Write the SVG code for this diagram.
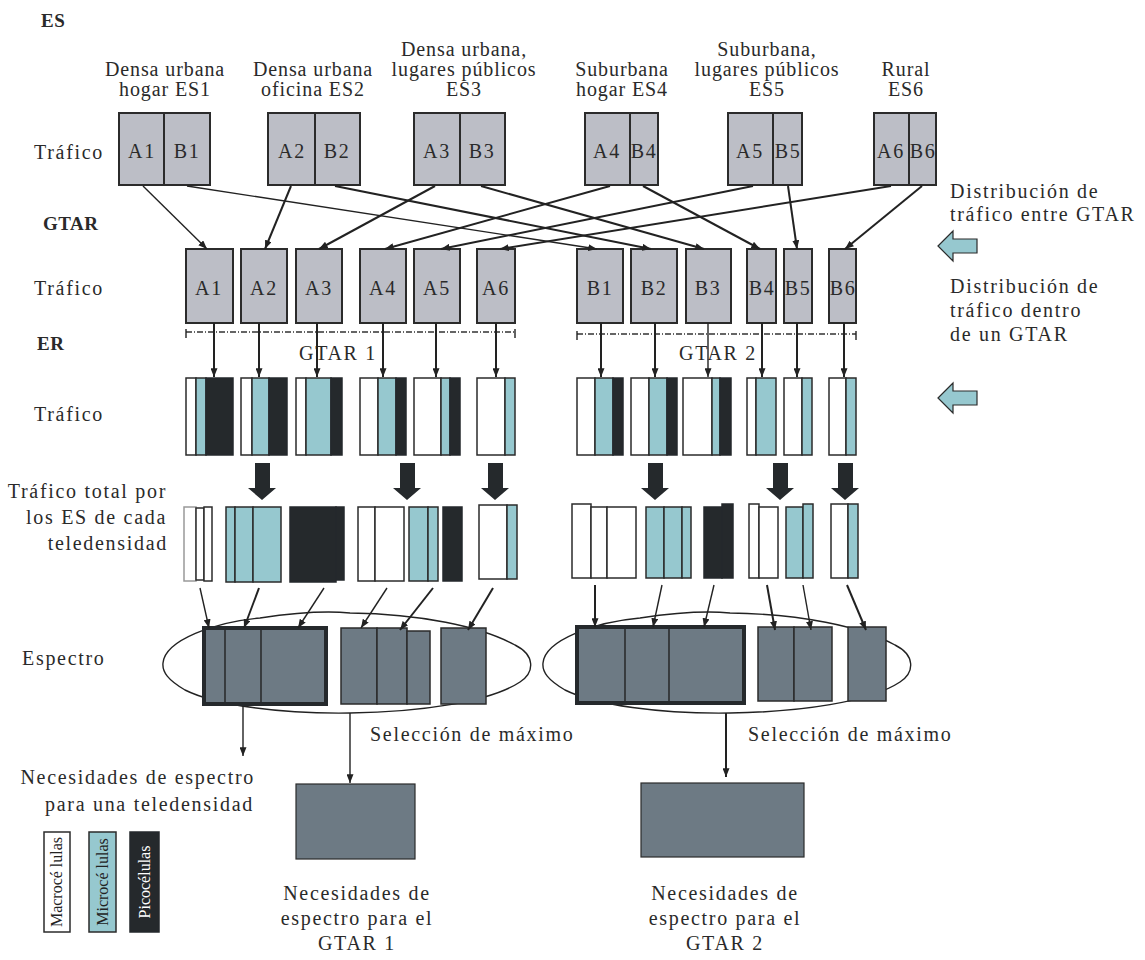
<svg xmlns="http://www.w3.org/2000/svg" width="1145" height="960" viewBox="0 0 1145 960" font-family="'Liberation Serif','Times New Roman',serif">
<defs>
<style>
.t{font-family:"Liberation Serif","Times New Roman",serif;font-size:20px;fill:#2a2a2a;letter-spacing:1.7px}
.h{letter-spacing:0.9px}
.b{font-weight:bold;font-size:19px;letter-spacing:0.5px}
.m{text-anchor:middle}
.e{text-anchor:end}
.gb{fill:#bcbec6;stroke:#2b2b2b;stroke-width:2}
.dv{stroke:#2b2b2b;stroke-width:2}
.w{fill:#fff;stroke:#2b2b2b;stroke-width:1.5}
.c{fill:#96c8cf;stroke:#2b2b2b;stroke-width:1.5}
.k{fill:#25292c;stroke:#25292c;stroke-width:1.5}
.s{fill:#6d7a84;stroke:#2b2b2b;stroke-width:1.5}
.thick{fill:none;stroke:#25292c;stroke-width:4}
.ln{stroke:#222;stroke-width:2;fill:none}
.lt{stroke:#222;stroke-width:1.4;fill:none}
.dd{stroke:#333;stroke-width:1.3;stroke-dasharray:6 2 1 2;fill:none}
.ell{fill:none;stroke:#222;stroke-width:1.4}
.cy{fill:#96c8cf;stroke:#2b2b2b;stroke-width:1.2}
.blk{fill:#25292c}
.lg{font-family:"Liberation Serif","Times New Roman",serif;font-size:16px;text-anchor:middle}
</style>
<marker id="ah" viewBox="0 0 10 8" refX="10" refY="4" markerWidth="9" markerHeight="7" markerUnits="userSpaceOnUse" orient="auto">
<path d="M0,0 L10,4 L0,8 z" fill="#222"/>
</marker>
</defs>
<rect width="1145" height="960" fill="#fff"/>

<!-- row labels -->
<g id="labels">
<text class="t b" x="41" y="27">ES</text>
<text class="t b" x="43" y="230">GTAR</text>
<text class="t b" x="37" y="350">ER</text>
<text class="t" x="34" y="159">Tráfico</text>
<text class="t" x="34" y="295">Tráfico</text>
<text class="t" x="34" y="421">Tráfico</text>
<text class="t e" x="167" y="498">Tráfico total por</text>
<text class="t e" x="167" y="524">los ES de cada</text>
<text class="t e" x="168" y="550">teledensidad</text>
<text class="t" x="22" y="665">Espectro</text>
<text class="t" x="950" y="198">Distribución de</text>
<text class="t" x="950" y="221">tráfico entre GTAR</text>
<text class="t" x="950" y="293">Distribución de</text>
<text class="t" x="950" y="317">tráfico dentro</text>
<text class="t" x="950" y="341">de un GTAR</text>
<text class="t" x="370" y="741">Selección de máximo</text>
<text class="t" x="748" y="741">Selección de máximo</text>
<text class="t e" x="255" y="784">Necesidades de espectro</text>
<text class="t e" x="254" y="811">para una teledensidad</text>
<text class="t m" x="357" y="900">Necesidades de</text>
<text class="t m" x="357" y="925">espectro para el</text>
<text class="t m" x="357" y="950">GTAR 1</text>
<text class="t m" x="725" y="900">Necesidades de</text>
<text class="t m" x="725" y="925">espectro para el</text>
<text class="t m" x="725" y="950">GTAR 2</text>
</g>

<!-- cyan side arrows -->
<g id="side-arrow-1"><path class="cy" d="M938,246 L953,231 L953,239 L977,239 L977,253 L953,253 L953,261 Z"/></g>
<g id="side-arrow-2"><path class="cy" d="M938,398 L953,383 L953,391 L977,391 L977,405 L953,405 L953,413 Z"/></g>

<!-- ES nodes -->
<g id="es1"><text class="t h m" x="165" y="76">Densa urbana</text><text class="t h m" x="165" y="96">hogar ES1</text>
<rect class="gb" x="119" y="113" width="91" height="72"/><line class="dv" x1="164" y1="113" x2="164" y2="185"/>
<text class="t m" x="142" y="158">A1</text><text class="t m" x="187" y="158">B1</text></g>
<g id="es2"><text class="t h m" x="313" y="76">Densa urbana</text><text class="t h m" x="313" y="96">oficina ES2</text>
<rect class="gb" x="268" y="113" width="92" height="72"/><line class="dv" x1="315" y1="113" x2="315" y2="185"/>
<text class="t m" x="292" y="158">A2</text><text class="t m" x="337" y="158">B2</text></g>
<g id="es3"><text class="t h m" x="464" y="56">Densa urbana,</text><text class="t h m" x="464" y="76">lugares públicos</text><text class="t h m" x="464" y="96">ES3</text>
<rect class="gb" x="414" y="113" width="91" height="72"/><line class="dv" x1="460" y1="113" x2="460" y2="185"/>
<text class="t m" x="437" y="158">A3</text><text class="t m" x="482" y="158">B3</text></g>
<g id="es4"><text class="t h m" x="622" y="76">Suburbana</text><text class="t h m" x="622" y="96">hogar ES4</text>
<rect class="gb" x="585" y="113" width="73" height="72"/><line class="dv" x1="630" y1="113" x2="630" y2="185"/>
<text class="t m" x="607" y="158">A4</text><text class="t m" x="644" y="158">B4</text></g>
<g id="es5"><text class="t h m" x="767" y="56">Suburbana,</text><text class="t h m" x="767" y="76">lugares públicos</text><text class="t h m" x="767" y="96">ES5</text>
<rect class="gb" x="728" y="113" width="74" height="72"/><line class="dv" x1="773" y1="113" x2="773" y2="185"/>
<text class="t m" x="750" y="158">A5</text><text class="t m" x="788" y="158">B5</text></g>
<g id="es6"><text class="t h m" x="906" y="76">Rural</text><text class="t h m" x="906" y="96">ES6</text>
<rect class="gb" x="874" y="113" width="62" height="72"/><line class="dv" x1="909" y1="113" x2="909" y2="185"/>
<text class="t m" x="891" y="158">A6</text><text class="t m" x="923" y="158">B6</text></g>

<!-- GTAR nodes -->
<g id="gtar-a">
<rect class="gb" x="186" y="249" width="47" height="74"/><text class="t m" x="209" y="295">A1</text>
<rect class="gb" x="241" y="249" width="46" height="74"/><text class="t m" x="264" y="295">A2</text>
<rect class="gb" x="296" y="249" width="46" height="74"/><text class="t m" x="319" y="295">A3</text>
<rect class="gb" x="360" y="249" width="46" height="74"/><text class="t m" x="383" y="295">A4</text>
<rect class="gb" x="414" y="249" width="46" height="74"/><text class="t m" x="437" y="295">A5</text>
<rect class="gb" x="477" y="249" width="38" height="74"/><text class="t m" x="496" y="295">A6</text>
<path class="dd" d="M186,332 H515"/><path class="lt" d="M186,329 V338 M515,329 V338"/>
<text class="t" x="299" y="360">GTAR 1</text>
</g>
<g id="gtar-b">
<rect class="gb" x="577" y="249" width="46" height="74"/><text class="t m" x="600" y="295">B1</text>
<rect class="gb" x="631" y="249" width="46" height="74"/><text class="t m" x="654" y="295">B2</text>
<rect class="gb" x="686" y="249" width="45" height="74"/><text class="t m" x="708" y="295">B3</text>
<rect class="gb" x="747" y="249" width="29" height="74"/><text class="t m" x="762" y="295">B4</text>
<rect class="gb" x="784" y="249" width="28" height="74"/><text class="t m" x="798" y="295">B5</text>
<rect class="gb" x="829" y="249" width="27" height="74"/><text class="t m" x="843" y="295">B6</text>
<path class="dd" d="M577,334 H856"/><path class="lt" d="M577,331 V340 M856,331 V340"/>
<text class="t" x="679" y="360">GTAR 2</text>
</g>

<!-- ER traffic bars -->
<g id="er-a">
<rect class="w" x="186" y="378" width="10" height="77"/><rect class="c" x="196" y="378" width="10" height="77"/><rect class="k" x="206" y="378" width="27" height="77"/>
<rect class="w" x="241" y="378" width="11" height="77"/><rect class="c" x="252" y="378" width="17" height="77"/><rect class="k" x="269" y="378" width="18" height="77"/>
<rect class="w" x="296" y="378" width="10" height="77"/><rect class="c" x="306" y="378" width="25" height="77"/><rect class="k" x="331" y="378" width="11" height="77"/>
<rect class="w" x="360" y="378" width="18" height="77"/><rect class="c" x="378" y="378" width="18" height="77"/><rect class="k" x="396" y="378" width="10" height="77"/>
<rect class="w" x="414" y="378" width="27" height="77"/><rect class="c" x="441" y="378" width="9" height="77"/><rect class="k" x="450" y="378" width="10" height="77"/>
<rect class="w" x="477" y="378" width="28" height="77"/><rect class="c" x="505" y="378" width="10" height="77"/>
</g>
<g id="er-b">
<rect class="w" x="577" y="378" width="18" height="77"/><rect class="c" x="595" y="378" width="18" height="77"/><rect class="k" x="613" y="378" width="10" height="77"/>
<rect class="w" x="631" y="378" width="18" height="77"/><rect class="c" x="649" y="378" width="18" height="77"/><rect class="k" x="667" y="378" width="10" height="77"/>
<rect class="w" x="683" y="378" width="29" height="77"/><rect class="c" x="712" y="378" width="8" height="77"/><rect class="k" x="720" y="378" width="11" height="77"/>
<rect class="w" x="747" y="378" width="9" height="77"/><rect class="c" x="756" y="378" width="20" height="77"/>
<rect class="w" x="784" y="378" width="18" height="77"/><rect class="c" x="802" y="378" width="10" height="77"/>
<rect class="w" x="829" y="378" width="17" height="77"/><rect class="c" x="846" y="378" width="10" height="77"/>
</g>

<!-- block down arrows -->
<g id="block-arrows">
<path class="blk" d="M255,463 H270 V488 H276 L262,500 L248,488 H255 Z"/>
<path class="blk" d="M400,463 H415 V488 H421 L407,500 L393,488 H400 Z"/>
<path class="blk" d="M488,463 H503 V488 H509 L495,500 L481,488 H488 Z"/>
<path class="blk" d="M648,463 H663 V488 H669 L655,500 L641,488 H648 Z"/>
<path class="blk" d="M773,463 H788 V488 H794 L780,500 L766,488 H773 Z"/>
<path class="blk" d="M838,463 H853 V488 H859 L845,500 L831,488 H838 Z"/>
</g>

<!-- total traffic -->
<g id="total-a">
<rect class="w" x="184" y="507" width="12" height="74" style="stroke:#999"/><rect class="w" x="196" y="508" width="8" height="72"/><rect class="w" x="204" y="507" width="8" height="74"/>
<rect class="c" x="226" y="507" width="9" height="75"/><rect class="c" x="235" y="507" width="18" height="75"/><rect class="c" x="253" y="507" width="28" height="75"/>
<rect class="k" x="290" y="507" width="46" height="75"/><rect class="k" x="336" y="507" width="8" height="73"/>
<rect class="w" x="358" y="507" width="17" height="74"/><rect class="w" x="375" y="507" width="29" height="74"/>
<rect class="c" x="409" y="507" width="19" height="74"/><rect class="c" x="428" y="507" width="10" height="74"/>
<rect class="k" x="443" y="507" width="19" height="74"/>
<rect class="w" x="479" y="505" width="28" height="74"/><rect class="c" x="507" y="505" width="10" height="74"/>
</g>
<g id="total-b">
<rect class="w" x="572" y="504" width="19" height="74"/><rect class="w" x="591" y="507" width="16" height="71"/><rect class="w" x="607" y="507" width="29" height="71"/>
<rect class="c" x="646" y="507" width="18" height="71"/><rect class="c" x="664" y="507" width="18" height="71"/><rect class="c" x="682" y="507" width="9" height="71"/>
<rect class="k" x="704" y="507" width="18" height="71"/><rect class="k" x="722" y="504" width="11" height="74"/>
<rect class="w" x="749" y="504" width="10" height="74"/><rect class="w" x="759" y="507" width="19" height="71"/>
<rect class="c" x="786" y="507" width="17" height="71"/><rect class="c" x="803" y="504" width="10" height="74"/>
<rect class="w" x="831" y="504" width="17" height="74"/><rect class="c" x="848" y="504" width="10" height="74"/>
</g>

<!-- spectrum -->
<g id="spectrum-1">
<path class="ell" d="M163,663 C165,640 215,622 260,618 C300,612 330,611 350,613 C420,614 480,626 515,645 C535,655 535,672 520,682 C490,702 420,712 350,713 C280,714 215,705 185,690 C168,680 162,672 163,663 Z"/>
<rect class="s" x="204" y="628" width="122" height="76"/>
<line class="lt" x1="225" y1="628" x2="225" y2="704"/><line class="lt" x1="261" y1="628" x2="261" y2="704"/>
<rect class="thick" x="204" y="628" width="122" height="76"/>
<rect class="s" x="341" y="628" width="36" height="76"/><rect class="s" x="377" y="628" width="30" height="76"/><rect class="s" x="407" y="631" width="23" height="73"/>
<rect class="s" x="441" y="628" width="45" height="76"/>
</g>
<g id="spectrum-2">
<path class="ell" d="M543,663 C545,640 595,622 640,618 C680,612 710,611 730,613 C800,614 860,626 895,645 C915,655 915,672 900,682 C870,702 800,712 730,713 C660,714 595,705 565,690 C548,680 542,672 543,663 Z"/>
<rect class="s" x="577" y="627" width="167" height="76"/>
<line class="lt" x1="625" y1="627" x2="625" y2="703"/><line class="lt" x1="669" y1="627" x2="669" y2="703"/>
<rect class="thick" x="577" y="627" width="167" height="76"/>
<rect class="s" x="758" y="627" width="36" height="74"/><rect class="s" x="794" y="627" width="38" height="74"/>
<rect class="s" x="848" y="627" width="38" height="74"/>
</g>

<!-- results -->
<g id="result-1"><rect class="s" x="296" y="784" width="119" height="75" style="stroke-width:1.2"/></g>
<g id="result-2"><rect class="s" x="641" y="783" width="163" height="74" style="stroke-width:1.2"/></g>

<!-- legend -->
<g id="legend-macro"><rect class="w" x="44" y="832" width="26" height="100"/><text class="lg" transform="translate(62,882) rotate(-90)" fill="#222">Macrocé lulas</text></g>
<g id="legend-micro"><rect class="c" x="89" y="832" width="27" height="100"/><text class="lg" transform="translate(108,882) rotate(-90)" fill="#222">Microcé lulas</text></g>
<g id="legend-pico"><rect class="k" x="130" y="832" width="29" height="100"/><text class="lg" transform="translate(150,882) rotate(-90)" fill="#fff">Picocélulas</text></g>

<!-- connectors -->
<g id="connectors">
<line class="lt" x1="143" y1="186" x2="207" y2="249" marker-end="url(#ah)"/>
<line class="lt" x1="187" y1="186" x2="597" y2="249" marker-end="url(#ah)"/>
<line class="ln" x1="291" y1="186" x2="265" y2="249" marker-end="url(#ah)"/>
<line class="ln" x1="335" y1="186" x2="651" y2="249" marker-end="url(#ah)"/>
<line class="ln" x1="435" y1="186" x2="319" y2="249" marker-end="url(#ah)"/>
<line class="ln" x1="481" y1="186" x2="704" y2="249" marker-end="url(#ah)"/>
<line class="ln" x1="610" y1="186" x2="385" y2="249" marker-end="url(#ah)"/>
<line class="ln" x1="643" y1="186" x2="760" y2="249" marker-end="url(#ah)"/>
<line class="ln" x1="753" y1="186" x2="441" y2="249" marker-end="url(#ah)"/>
<line class="ln" x1="788" y1="186" x2="797" y2="249" marker-end="url(#ah)"/>
<line class="ln" x1="891" y1="186" x2="500" y2="249" marker-end="url(#ah)"/>
<line class="ln" x1="922" y1="186" x2="845" y2="249" marker-end="url(#ah)"/>

<line class="ln" x1="214" y1="323" x2="214" y2="377" marker-end="url(#ah)"/>
<line class="ln" x1="259" y1="323" x2="259" y2="377" marker-end="url(#ah)"/>
<line class="ln" x1="317" y1="323" x2="317" y2="377" marker-end="url(#ah)"/>
<line class="ln" x1="383" y1="323" x2="383" y2="377" marker-end="url(#ah)"/>
<line class="ln" x1="436" y1="323" x2="436" y2="377" marker-end="url(#ah)"/>
<line class="ln" x1="496" y1="323" x2="496" y2="377" marker-end="url(#ah)"/>
<line class="ln" x1="601" y1="323" x2="601" y2="377" marker-end="url(#ah)"/>
<line class="ln" x1="655" y1="323" x2="655" y2="377" marker-end="url(#ah)"/>
<line class="lt" x1="708" y1="323" x2="708" y2="377" marker-end="url(#ah)"/>
<line class="ln" x1="762" y1="323" x2="762" y2="377" marker-end="url(#ah)"/>
<line class="ln" x1="797" y1="323" x2="797" y2="377" marker-end="url(#ah)"/>
<line class="ln" x1="844" y1="323" x2="844" y2="377" marker-end="url(#ah)"/>

<line class="lt" x1="200" y1="588" x2="209" y2="628" marker-end="url(#ah)"/>
<line class="ln" x1="259" y1="588" x2="244" y2="628" marker-end="url(#ah)"/>
<line class="lt" x1="324" y1="588" x2="298" y2="628" marker-end="url(#ah)"/>
<line class="lt" x1="387" y1="588" x2="361" y2="628" marker-end="url(#ah)"/>
<line class="ln" x1="433" y1="588" x2="400" y2="630" marker-end="url(#ah)"/>
<line class="ln" x1="493" y1="588" x2="468" y2="630" marker-end="url(#ah)"/>
<line class="ln" x1="595" y1="585" x2="595" y2="627" marker-end="url(#ah)"/>
<line class="lt" x1="662" y1="585" x2="653" y2="627" marker-end="url(#ah)"/>
<line class="lt" x1="714" y1="585" x2="704" y2="627" marker-end="url(#ah)"/>
<line class="ln" x1="767" y1="585" x2="775" y2="630" marker-end="url(#ah)"/>
<line class="lt" x1="803" y1="585" x2="811" y2="630" marker-end="url(#ah)"/>
<line class="ln" x1="847" y1="585" x2="866" y2="630" marker-end="url(#ah)"/>

<line class="lt" x1="243" y1="706" x2="243" y2="756" marker-end="url(#ah)"/>
<line class="lt" x1="350" y1="713" x2="350" y2="783" marker-end="url(#ah)"/>
<line class="ln" x1="726" y1="713" x2="726" y2="777" marker-end="url(#ah)"/>
</g>
</svg>
